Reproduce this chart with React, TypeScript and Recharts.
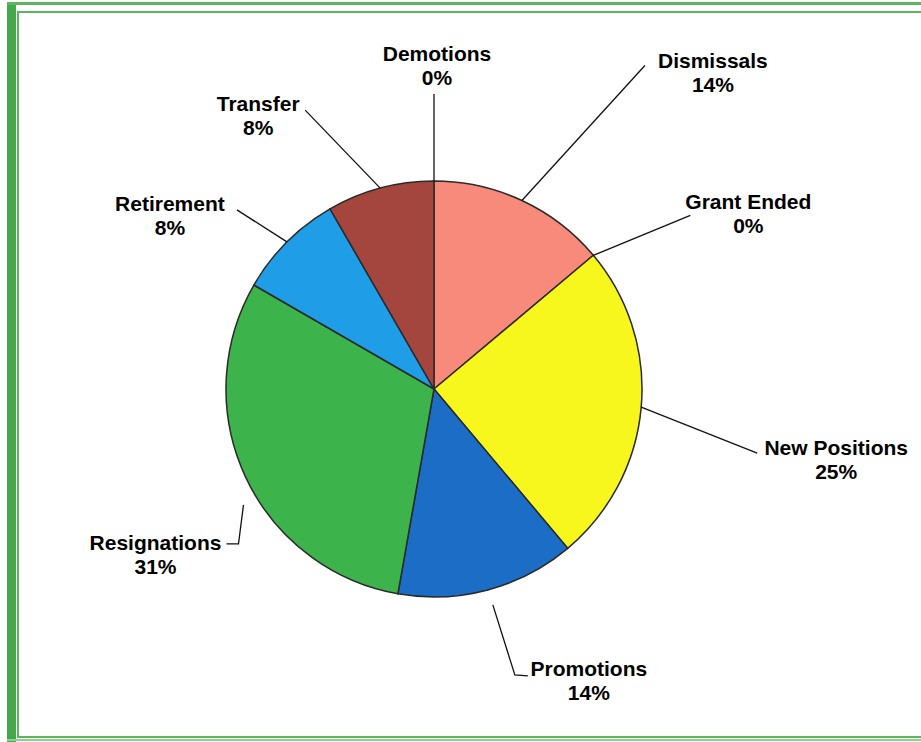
import React from 'react';
import { PieChart, Pie, Cell } from 'recharts';

// counts behind the percentages (36 separations in total)
const categories = ['Dismissals', 'Grant Ended', 'New Positions', 'Promotions', 'Resignations', 'Retirement', 'Transfer', 'Demotions'];
const counts = [5, 0, 9, 5, 11, 3, 3, 0];
const colors = ['#f88a7b', '#f4f41c', '#f7f71e', '#1c6dc6', '#3db34b', '#1f9de6', '#a5463e', '#b04a40'];

const data = categories.map((name, i) => ({ name, value: counts[i] }));

// leader line points and text spot, relative to the slice edge point
const LABEL_LAYOUT: Record<string, { path: number[][]; text: number[] }> = {
  Dismissals: { path: [[0, 0], [123, -135]], text: [191, -140] },
  'Grant Ended': { path: [[0, 0], [97, -40]], text: [155, -54] },
  'New Positions': { path: [[0, 0], [116, 46]], text: [195, 40] },
  Promotions: { path: [[5, 15], [27, 85], [40, 86]], text: [101, 78] },
  Resignations: { path: [[-2, 28], [-7, 67], [-19, 67]], text: [-90, 65] },
  Retirement: { path: [[0, 0], [-50, -32]], text: [-117, -39] },
  Transfer: { path: [[0, 0], [-75, -78]], text: [-122, -85] },
  Demotions: { path: [[0, 0], [0, -87]], text: [3, -128] },
};

const RAD = Math.PI / 180;

const renderLabel = (props: any) => {
  const { cx, cy, midAngle, outerRadius, name, percent } = props;
  const layout = LABEL_LAYOUT[name];
  if (!layout) return null;
  const ex = cx + outerRadius * Math.cos(-midAngle * RAD);
  const ey = cy + outerRadius * Math.sin(-midAngle * RAD);
  const pts = layout.path.map(([dx, dy]) => `${ex + dx},${ey + dy}`).join(' ');
  const tx = ex + layout.text[0];
  const ty = ey + layout.text[1];
  return (
    <g>
      <polyline points={pts} fill="none" stroke="#111" strokeWidth={1.3} />
      <text
        x={tx}
        y={ty}
        textAnchor="middle"
        dominantBaseline="central"
        fontFamily="'Liberation Sans', Arial, sans-serif"
        fontWeight="bold"
        fontSize={21}
        fill="#000"
      >
        <tspan x={tx} dy={0}>{name}</tspan>
        <tspan x={tx} dy={24}>{Math.round(percent * 100)}%</tspan>
      </text>
    </g>
  );
};

const frameGreen = '#5db65d';

export default function App() {
  return (
    <div style={{ position: 'absolute', top: 0, left: 0, width: 921, height: 742, background: '#fff', overflow: 'hidden' }}>
      <div style={{ position: 'absolute', left: 7, top: 2, width: 9, height: 740, background: '#45a84b' }} />
      <div style={{ position: 'absolute', left: 17, top: 11, width: 2, height: 726, background: frameGreen }} />
      <div style={{ position: 'absolute', left: 7, top: 2, width: 914, height: 3, background: frameGreen }} />
      <div style={{ position: 'absolute', left: 17, top: 11, width: 904, height: 2, background: frameGreen }} />
      <div style={{ position: 'absolute', left: 17, top: 736, width: 904, height: 2, background: frameGreen }} />
      <div style={{ position: 'absolute', left: 7, top: 739, width: 914, height: 2, background: '#8fcf8f' }} />
      <div style={{ position: 'absolute', left: 0, top: 0 }}>
        <PieChart width={921} height={742} margin={{ top: 0, right: 0, bottom: 0, left: 0 }}>
          <Pie
            data={data}
            dataKey="value"
            nameKey="name"
            cx={434}
            cy={389}
            outerRadius={208}
            startAngle={90}
            endAngle={-270}
            stroke="#2a2a2a"
            strokeWidth={1.5}
            label={renderLabel}
            labelLine={false}
            isAnimationActive={false}
          >
            {data.map((d, i) => (
              <Cell key={d.name} fill={colors[i]} />
            ))}
          </Pie>
        </PieChart>
      </div>
    </div>
  );
}
